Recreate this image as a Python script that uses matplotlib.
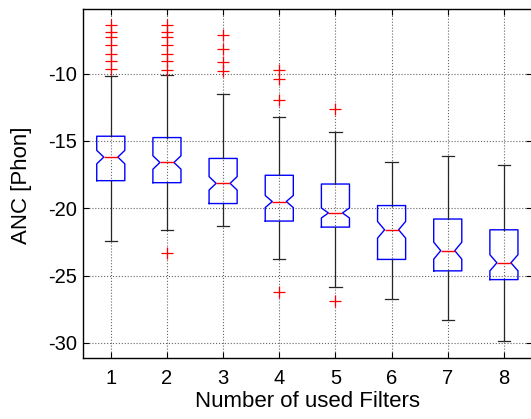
import matplotlib.pyplot as plt

plt.rcParams['font.family'] = ['Liberation Sans', 'DejaVu Sans']
plt.rcParams['axes.unicode_minus'] = False

# number of filters used
filters = [1, 2, 3, 4, 5, 6, 7, 8]

# box statistics (ANC in Phon)
medians = [-16.2, -16.6, -18.15, -19.5, -20.35, -21.6, -23.15, -24.05]
q1 = [-17.95, -18.1, -19.65, -20.95, -21.4, -23.8, -24.65, -25.3]
q3 = [-14.65, -14.75, -16.3, -17.55, -18.2, -19.8, -20.8, -21.6]
whisk_lo = [-22.4, -21.6, -21.3, -23.8, -25.85, -26.75, -28.3, -29.85]
whisk_hi = [-10.2, -10.1, -11.55, -13.2, -14.35, -16.6, -16.1, -16.8]
notch_half = [0.5, 0.5, 0.5, 0.45, 0.37, 0.62, 0.63, 0.6]

# outliers
fliers = [
    [-6.4, -6.9, -7.3, -7.85, -8.55, -9.05, -9.65],
    [-6.4, -6.9, -7.3, -7.85, -8.55, -9.05, -9.7, -23.3],
    [-7.1, -8.15, -9.1, -9.8],
    [-9.7, -10.4, -11.95, -26.2],
    [-12.6, -26.9],
    [],
    [],
    [],
]

stats = []
for i in range(len(filters)):
    stats.append({
        'med': medians[i], 'q1': q1[i], 'q3': q3[i],
        'whislo': whisk_lo[i], 'whishi': whisk_hi[i],
        'cilo': medians[i] - notch_half[i], 'cihi': medians[i] + notch_half[i],
        'fliers': fliers[i],
    })

W, H = 531, 419
fig = plt.figure(figsize=(W / 100, H / 100), dpi=100)
ax = fig.add_axes([82.7 / W, 1 - 357.7 / H, 449.3 / W, 348.7 / H])

ax.bxp(stats, positions=filters, widths=0.5, capwidths=0.22, shownotches=True,
       boxprops=dict(color='#0000ff', linewidth=1.0),
       medianprops=dict(color='#ff0000', linewidth=1.0),
       whiskerprops=dict(color='0.15', linewidth=0.9),
       capprops=dict(color='0.15', linewidth=0.9),
       flierprops=dict(marker='+', markeredgecolor='#ff0000', markersize=9,
                       markeredgewidth=0.9, linestyle='none'))

ax.set_xlim(0.5, 8.5)
ax.set_ylim(-31.1, -5.2)
ax.set_xticks(filters)
ax.set_xticklabels([str(f) for f in filters])
ax.set_yticks([-30, -25, -20, -15, -10])

ax.set_axisbelow(True)
ax.grid(True, linestyle=':', color='0.4', linewidth=0.8)
ax.tick_params(direction='in', top=True, right=True, length=4, width=0.8,
               labelsize=14.5)
ax.tick_params(axis='x', pad=8)
ax.tick_params(axis='y', pad=4)
for sp in ax.spines.values():
    sp.set_linewidth(1.0)

ax.set_xlabel('Number of used Filters', fontsize=16, labelpad=2)
ax.set_ylabel('ANC [Phon]', fontsize=16)
ax.yaxis.set_label_coords(-0.113, 0.495)

fig.savefig('out.png', dpi=100)
